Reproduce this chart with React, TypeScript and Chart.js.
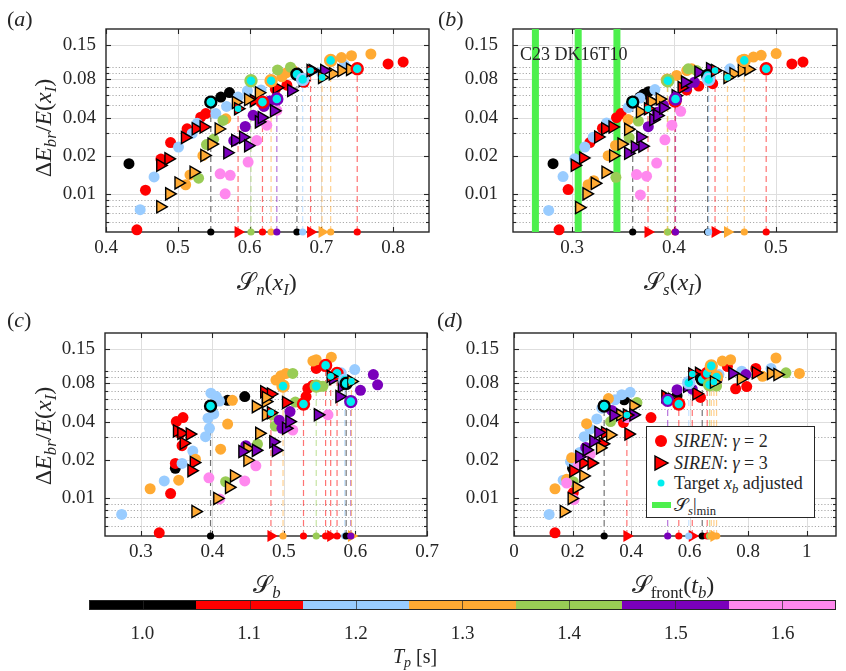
import React, { useEffect, useRef } from 'react';
import { Chart, registerables } from 'chart.js';

Chart.register(...registerables);

const FONT = "'Liberation Serif', 'Times New Roman', serif";
const INK = '#262626';

// ---------- colour classes (peak period Tp) ----------
const TP_VALUES = ['1.0', '1.1', '1.2', '1.3', '1.4', '1.5', '1.6'];
const TP_COLORS = ['#000000', '#ff0000', '#99ccff', '#ffaa33', '#99cc55', '#7a00bb', '#ff88ee'];
const CYAN = '#00eeee';
const BAND_GREEN = '#4df04d';

// ---------- axes ----------
const Y_MIN = 0.005;
const Y_MAX = 0.2;
const Y_TICKS = [0.01, 0.02, 0.04, 0.08, 0.15];
const Y_MINOR = [0.006, 0.007, 0.008, 0.009, 0.03, 0.05, 0.06, 0.07, 0.09, 0.1];

const A_X_TICKS = [0.4, 0.5, 0.6, 0.7, 0.8];
const B_X_TICKS = [0.3, 0.4, 0.5];
const C_X_TICKS = [0.3, 0.4, 0.5, 0.6, 0.7];
const D_X_TICKS = [0, 0.2, 0.4, 0.6, 0.8, 1];

// S_s|min bands of panel (b)
const B_BANDS = [0.264, 0.306, 0.344];

// ---------- data: [x, y, tpIndex] ; targets: [x, y, tpIndex, kind(0 circle,1 triangle)] ----------
const A_CIRCLES = [
  [0.432, 0.0173, 0], [0.56, 0.058, 0], [0.572, 0.063, 0],
  [0.443, 0.0052, 1], [0.455, 0.0107, 1], [0.4765, 0.0188, 1], [0.49, 0.0254, 1], [0.513, 0.0326, 1], [0.532, 0.0403, 1], [0.539, 0.043, 1], [0.652, 0.072, 1], [0.676, 0.076, 1], [0.793, 0.106, 1], [0.814, 0.11, 1], [0.636, 0.067, 1],
  [0.4476, 0.0075, 2], [0.467, 0.0136, 2], [0.501, 0.0234, 2], [0.52, 0.03, 2], [0.527, 0.036, 2], [0.553, 0.043, 2], [0.568, 0.049, 2], [0.584, 0.058, 2], [0.597, 0.065, 2], [0.616, 0.066, 2], [0.7, 0.091, 2], [0.732, 0.104, 2],
  [0.511, 0.0118, 3], [0.517, 0.0141, 3], [0.535, 0.02, 3], [0.567, 0.0391, 3], [0.645, 0.084, 3], [0.651, 0.09, 3], [0.661, 0.094, 3], [0.728, 0.119, 3], [0.742, 0.123, 3], [0.769, 0.127, 3],
  [0.529, 0.0133, 4], [0.54, 0.0245, 4], [0.55, 0.027, 4], [0.563, 0.038, 4], [0.639, 0.095, 4], [0.657, 0.1, 4],
  [0.578, 0.0263, 5], [0.594, 0.034, 5], [0.605, 0.0417, 5], [0.62, 0.049, 5], [0.628, 0.054, 5],
  [0.559, 0.0144, 6], [0.573, 0.014, 6], [0.566, 0.01, 6], [0.598, 0.0178, 6], [0.61, 0.0264, 6], [0.624, 0.0348, 6], [0.638, 0.0455, 6],
];
const A_TRIANGLES = [
  [0.4756, 0.0168, 1], [0.487, 0.0189, 1], [0.51, 0.0278, 1], [0.525, 0.0326, 1], [0.536, 0.0337, 1], [0.606, 0.0544, 1], [0.638, 0.0688, 1],
  [0.4756, 0.0079, 3], [0.488, 0.01, 3], [0.501, 0.0122, 3], [0.522, 0.0148, 3], [0.537, 0.0201, 3], [0.547, 0.0247, 3], [0.557, 0.0325, 3], [0.581, 0.0527, 3], [0.598, 0.0555, 3], [0.613, 0.0628, 3], [0.716, 0.0887, 3], [0.728, 0.094, 3], [0.74, 0.096, 3],
  [0.569, 0.0211, 5], [0.58, 0.0264, 5], [0.591, 0.028, 5], [0.598, 0.024, 5], [0.613, 0.037, 5], [0.617, 0.04, 5], [0.634, 0.0452, 5], [0.658, 0.0653, 5], [0.674, 0.0785, 5], [0.688, 0.0942, 5], [0.704, 0.094, 5],
];
const A_TARGETS = [
  [0.546, 0.053, 0, 0], [0.584, 0.047, 1, 1], [0.602, 0.078, 4, 0], [0.618, 0.053, 1, 0], [0.63, 0.078, 3, 0], [0.638, 0.056, 5, 0],
  [0.666, 0.088, 0, 0], [0.674, 0.08, 2, 0], [0.685, 0.094, 1, 1], [0.701, 0.083, 3, 1], [0.713, 0.113, 3, 0], [0.75, 0.097, 1, 0],
];

const B_CIRCLES = [
  [0.2813, 0.0173, 0], [0.3666, 0.058, 0], [0.37, 0.061, 0], [0.375, 0.064, 0],
  [0.2872, 0.0052, 1], [0.2961, 0.0108, 1], [0.3174, 0.0254, 1], [0.3298, 0.033, 1], [0.3436, 0.0399, 1], [0.348, 0.043, 1], [0.4125, 0.066, 1], [0.4243, 0.071, 1], [0.438, 0.074, 1], [0.5157, 0.106, 1], [0.5266, 0.11, 1],
  [0.277, 0.0074, 2], [0.2911, 0.0137, 2], [0.3026, 0.0189, 2], [0.3125, 0.0234, 2], [0.3207, 0.028, 2], [0.3338, 0.0362, 2], [0.355, 0.048, 2], [0.3666, 0.057, 2], [0.3813, 0.0665, 2], [0.4348, 0.083, 2], [0.455, 0.097, 2], [0.468, 0.104, 2],
  [0.3157, 0.0118, 3], [0.3213, 0.0127, 3], [0.3354, 0.02, 3], [0.3426, 0.0241, 3], [0.355, 0.0386, 3], [0.4026, 0.086, 3], [0.4125, 0.094, 3], [0.4174, 0.097, 3], [0.4666, 0.114, 3], [0.478, 0.12, 3], [0.4856, 0.124, 3], [0.5003, 0.128, 3],
  [0.343, 0.0135, 4], [0.356, 0.0278, 4], [0.365, 0.0375, 4], [0.414, 0.097, 4], [0.4223, 0.094, 4],
  [0.3748, 0.0339, 5], [0.3836, 0.044, 5], [0.3897, 0.05, 5], [0.4125, 0.07, 5], [0.42, 0.076, 5],
  [0.3633, 0.0142, 6], [0.3731, 0.0138, 6], [0.367, 0.0098, 6], [0.383, 0.0175, 6], [0.3911, 0.0267, 6], [0.398, 0.0348, 6], [0.4066, 0.0448, 6],
];
const B_TRIANGLES = [
  [0.3026, 0.0168, 1], [0.3108, 0.0192, 1], [0.3256, 0.0281, 1], [0.3325, 0.0326, 1], [0.3397, 0.0337, 1], [0.3764, 0.0545, 1], [0.4075, 0.0689, 1],
  [0.3069, 0.0078, 3], [0.3141, 0.01, 3], [0.3223, 0.0121, 3], [0.3328, 0.0148, 3], [0.3403, 0.02, 3], [0.3485, 0.0247, 3], [0.355, 0.0323, 3], [0.3666, 0.0445, 3], [0.378, 0.0534, 3], [0.386, 0.056, 3], [0.4584, 0.0887, 3], [0.4666, 0.094, 3], [0.4731, 0.096, 3],
  [0.355, 0.0209, 5], [0.3616, 0.0234, 5], [0.369, 0.0238, 5], [0.367, 0.0281, 5], [0.3797, 0.0386, 5], [0.3836, 0.0415, 5], [0.3895, 0.0476, 5], [0.4016, 0.0595, 5], [0.4108, 0.0762, 5], [0.424, 0.0913, 5], [0.4354, 0.097, 5],
];
const B_TARGETS = [
  [0.3595, 0.053, 0, 0], [0.3745, 0.047, 1, 1], [0.3935, 0.079, 3, 0], [0.394, 0.078, 4, 0], [0.401, 0.054, 1, 0], [0.4015, 0.056, 5, 0],
  [0.433, 0.086, 0, 0], [0.434, 0.08, 2, 0], [0.4403, 0.094, 1, 1], [0.4525, 0.083, 3, 1], [0.469, 0.113, 3, 0], [0.4905, 0.097, 1, 0],
];

const C_CIRCLES = [
  [0.3483, 0.0171, 0], [0.4214, 0.0588, 0], [0.4453, 0.063, 0],
  [0.3258, 0.0053, 1], [0.3417, 0.0108, 1], [0.3483, 0.0187, 1], [0.3497, 0.04, 1], [0.359, 0.043, 1], [0.355, 0.0323, 1], [0.3577, 0.0258, 1], [0.531, 0.063, 1], [0.5335, 0.0731, 1], [0.54, 0.077, 1], [0.5452, 0.105, 1],
  [0.2733, 0.0074, 2], [0.3328, 0.0136, 2], [0.3577, 0.0187, 2], [0.3727, 0.0234, 2], [0.3905, 0.0304, 2], [0.396, 0.0354, 2], [0.394, 0.0425, 2], [0.402, 0.046, 2], [0.398, 0.067, 2], [0.4055, 0.063, 2], [0.41, 0.058, 2], [0.58, 0.097, 2], [0.599, 0.103, 2],
  [0.3131, 0.0118, 3], [0.353, 0.0138, 3], [0.3764, 0.0202, 3], [0.4116, 0.0242, 3], [0.4214, 0.0382, 3], [0.428, 0.0588, 3], [0.4889, 0.085, 3], [0.4959, 0.092, 3], [0.503, 0.096, 3], [0.5405, 0.12, 3], [0.5452, 0.123, 3], [0.5663, 0.129, 3],
  [0.4186, 0.0134, 4], [0.4631, 0.0266, 4], [0.484, 0.045, 4], [0.4879, 0.0369, 4], [0.5124, 0.096, 4], [0.516, 0.057, 4], [0.55, 0.076, 4], [0.5546, 0.076, 4],
  [0.4467, 0.0258, 5], [0.4936, 0.041, 5], [0.4973, 0.0354, 5], [0.5086, 0.048, 5], [0.625, 0.094, 5], [0.631, 0.078, 5], [0.607, 0.0706, 5],
  [0.3952, 0.0144, 6], [0.4102, 0.0098, 6], [0.4453, 0.0136, 6], [0.4608, 0.0179, 6], [0.5124, 0.0343, 6], [0.5616, 0.0452, 6],
];
const C_TRIANGLES = [
  [0.3506, 0.0337, 1], [0.3567, 0.0323, 1], [0.3684, 0.0319, 1], [0.36, 0.027, 1], [0.3741, 0.019, 1], [0.3708, 0.0164, 1], [0.4725, 0.0687, 1], [0.4819, 0.066, 1], [0.503, 0.0565, 1],
  [0.3764, 0.0078, 3], [0.4069, 0.0099, 3], [0.4233, 0.0121, 3], [0.4303, 0.0149, 3], [0.449, 0.0198, 3], [0.449, 0.0245, 3], [0.4655, 0.0323, 3], [0.4608, 0.0525, 3], [0.4749, 0.0575, 3], [0.4749, 0.062, 3], [0.4749, 0.0452, 3],
  [0.442, 0.0232, 5], [0.4608, 0.0237, 5], [0.4852, 0.0277, 5], [0.4889, 0.0237, 5], [0.503, 0.0354, 5], [0.5077, 0.04, 5], [0.5475, 0.0452, 5], [0.5776, 0.063, 5], [0.581, 0.076, 5], [0.5686, 0.087, 5],
];
const C_TARGETS = [
  [0.3975, 0.053, 0, 0], [0.4819, 0.047, 1, 1], [0.4988, 0.0762, 3, 0], [0.5274, 0.0551, 1, 0], [0.5452, 0.0762, 4, 0], [0.5583, 0.111, 1, 0],
  [0.5654, 0.091, 1, 1], [0.5743, 0.096, 1, 0], [0.585, 0.085, 2, 0], [0.587, 0.08, 0, 0], [0.5944, 0.083, 3, 1], [0.5935, 0.0575, 5, 0],
];

const D_CIRCLES = [
  [0.2, 0.0171, 0], [0.3764, 0.0594, 0], [0.557, 0.064, 0],
  [0.14, 0.0053, 1], [0.2025, 0.011, 1], [0.25, 0.023, 1], [0.374, 0.0393, 1], [0.468, 0.043, 1], [0.637, 0.062, 1], [0.757, 0.0725, 1], [0.795, 0.0755, 1], [0.729, 0.109, 1], [0.826, 0.105, 1],
  [0.12, 0.0074, 2], [0.168, 0.0138, 2], [0.193, 0.0193, 2], [0.225, 0.0228, 2], [0.24, 0.0304, 2], [0.26, 0.0348, 2], [0.283, 0.042, 2], [0.3, 0.051, 2], [0.345, 0.0594, 2], [0.3684, 0.0652, 2], [0.397, 0.068, 2], [0.7, 0.094, 2], [0.778, 0.1, 2], [0.878, 0.105, 2],
  [0.14, 0.0118, 3], [0.18, 0.014, 3], [0.197, 0.0207, 3], [0.248, 0.0385, 3], [0.3226, 0.0607, 3], [0.69, 0.08, 3], [0.7117, 0.12, 3], [0.74, 0.123, 3], [0.849, 0.091, 3], [0.895, 0.127, 3], [0.975, 0.096, 3],
  [0.2025, 0.0134, 4], [0.33, 0.04, 4], [0.42, 0.0565, 4], [0.692, 0.0762, 4], [0.929, 0.097, 4],
  [0.245, 0.025, 5], [0.334, 0.049, 5], [0.557, 0.0714, 5], [0.609, 0.072, 5], [0.695, 0.087, 5], [0.792, 0.094, 5],
  [0.18, 0.0131, 6], [0.205, 0.0097, 6], [0.22, 0.018, 6], [0.26, 0.022, 6], [0.386, 0.043, 6],
];
const D_TRIANGLES = [
  [0.2025, 0.0163, 1], [0.237, 0.0188, 1], [0.265, 0.0188, 1], [0.303, 0.0267, 1], [0.311, 0.0326, 1], [0.391, 0.0319, 1], [0.517, 0.063, 1], [0.623, 0.0663, 1], [0.632, 0.096, 1], [0.826, 0.097, 1],
  [0.17, 0.0078, 3], [0.197, 0.0099, 3], [0.214, 0.0121, 3], [0.237, 0.0149, 3], [0.294, 0.0248, 3], [0.3284, 0.0314, 3], [0.363, 0.0452, 3], [0.408, 0.0532, 3], [0.54, 0.06, 3], [0.775, 0.087, 3], [0.878, 0.096, 3], [0.9, 0.094, 3],
  [0.223, 0.0211, 5], [0.248, 0.0239, 5], [0.271, 0.028, 5], [0.2883, 0.0328, 5], [0.34, 0.0447, 5], [0.408, 0.0452, 5], [0.53, 0.06, 5], [0.5915, 0.076, 5], [0.683, 0.082, 5], [0.746, 0.096, 5],
];
const D_TARGETS = [
  [0.308, 0.053, 0, 0], [0.3856, 0.045, 1, 1], [0.525, 0.0588, 5, 0], [0.563, 0.055, 1, 0], [0.597, 0.081, 2, 0], [0.609, 0.095, 1, 1],
  [0.643, 0.086, 0, 0], [0.66, 0.096, 1, 0], [0.668, 0.078, 4, 0], [0.674, 0.11, 3, 0], [0.683, 0.082, 3, 1], [0.692, 0.09, 3, 0],
];

// ---------- helpers ----------
function rgba(hex: string, a: number) {
  const n = parseInt(hex.slice(1), 16);
  return `rgba(${(n >> 16) & 255},${(n >> 8) & 255},${n & 255},${a})`;
}

function makeDatasets(circles: number[][], triangles: number[][], targets: number[][], bands: number[]) {
  const ds: any[] = [];
  bands.forEach((x) => ds.push({
    data: [{ x, y: Y_MIN }, { x, y: Y_MAX }], showLine: true, borderColor: BAND_GREEN, borderWidth: 7,
    pointRadius: 0, order: 100, clip: false,
  }));
  targets.forEach(([x, y, tp]) => ds.push({
    data: [{ x, y: Y_MIN }, { x, y }], showLine: true, borderColor: rgba(TP_COLORS[tp], 0.55), borderWidth: 1.2,
    borderDash: [6, 4], pointRadius: 0, order: 90, clip: false,
  }));
  ds.push({
    data: circles.map(([x, y]) => ({ x, y })), pointStyle: 'circle', pointRadius: 5.5, pointBorderWidth: 0,
    pointBackgroundColor: circles.map((c) => TP_COLORS[c[2]]), pointBorderColor: circles.map((c) => TP_COLORS[c[2]]),
    order: 50, clip: false,
  });
  ds.push({
    data: triangles.map(([x, y]) => ({ x, y })), pointStyle: 'triangle', pointRotation: 90, pointRadius: 7,
    pointBorderWidth: 1.4, pointBorderColor: '#000000', pointBackgroundColor: triangles.map((c) => TP_COLORS[c[2]]),
    order: 40, clip: false,
  });
  const rings = targets.filter((t) => t[3] === 0);
  const tris = targets.filter((t) => t[3] === 1);
  ds.push({
    data: rings.map(([x, y]) => ({ x, y })), pointStyle: 'circle', pointRadius: 5.5, pointBorderWidth: 2.4,
    pointBackgroundColor: CYAN, pointBorderColor: rings.map((t) => TP_COLORS[t[2]]), order: 30, clip: false,
  });
  ds.push({
    data: tris.map(([x, y]) => ({ x, y })), pointStyle: 'triangle', pointRotation: 90, pointRadius: 7,
    pointBorderWidth: 1.4, pointBorderColor: '#000000', pointBackgroundColor: tris.map((t) => TP_COLORS[t[2]]),
    order: 28, clip: false,
  });
  ds.push({
    data: tris.map(([x, y]) => ({ x, y })), pointStyle: 'circle', pointRadius: 3.3, pointBorderWidth: 0,
    pointBackgroundColor: CYAN, pointBorderColor: CYAN, order: 26, clip: false,
  });
  ds.push({
    data: rings.map(([x]) => ({ x, y: Y_MIN })), pointStyle: 'circle', pointRadius: 3.6, pointBorderWidth: 0,
    pointBackgroundColor: rings.map((t) => TP_COLORS[t[2]]), pointBorderColor: rings.map((t) => TP_COLORS[t[2]]),
    order: 10, clip: false,
  });
  ds.push({
    data: tris.map(([x]) => ({ x, y: Y_MIN })), pointStyle: 'triangle', pointRotation: 90, pointRadius: 7,
    pointBorderWidth: 0, pointBackgroundColor: tris.map((t) => TP_COLORS[t[2]]), pointBorderColor: tris.map((t) => TP_COLORS[t[2]]),
    order: 10, clip: false,
  });
  return ds;
}

function framePlugin(xTicks: number[]) {
  return {
    id: 'matlabFrame',
    beforeDatasetsDraw(chart: any) {
      const { ctx, chartArea, scales } = chart;
      const { left, right, top, bottom } = chartArea;
      const x = scales.x;
      const y = scales.y;
      const line = (x1: number, y1: number, x2: number, y2: number) => {
        ctx.beginPath(); ctx.moveTo(x1, y1); ctx.lineTo(x2, y2); ctx.stroke();
      };
      ctx.save();
      ctx.lineWidth = 1;
      ctx.strokeStyle = '#dedede';
      xTicks.forEach((v) => {
        const p = Math.round(x.getPixelForValue(v)) + 0.5;
        if (p > left + 1 && p < right - 1) line(p, top, p, bottom);
      });
      Y_TICKS.forEach((v) => {
        const p = Math.round(y.getPixelForValue(v)) + 0.5;
        line(left, p, right, p);
      });
      ctx.strokeStyle = '#aaaaaa';
      ctx.setLineDash([1.2, 2]);
      Y_MINOR.forEach((v) => {
        const p = Math.round(y.getPixelForValue(v)) + 0.5;
        line(left, p, right, p);
      });
      ctx.setLineDash([]);
      ctx.strokeStyle = INK;
      ctx.lineWidth = 1.1;
      xTicks.forEach((v) => {
        const p = Math.round(x.getPixelForValue(v)) + 0.5;
        line(p, bottom, p, bottom - 5);
        line(p, top, p, top + 5);
      });
      Y_TICKS.forEach((v) => {
        const p = Math.round(y.getPixelForValue(v)) + 0.5;
        line(left, p, left + 5, p);
        line(right, p, right - 5, p);
      });
      Y_MINOR.forEach((v) => {
        const p = Math.round(y.getPixelForValue(v)) + 0.5;
        line(left, p, left + 3, p);
        line(right, p, right - 3, p);
      });
      ctx.lineWidth = 1.4;
      ctx.strokeRect(left, top, right - left, bottom - top);
      ctx.restore();
    },
  };
}

type Geo = { left: number; top: number; width: number; height: number; l: number; r: number; t: number; b: number; yPad: number };

const X_AXIS_H = 40;

function PanelChart(props: {
  geo: Geo; xMin: number; xMax: number; xTicks: number[];
  circles: number[][]; triangles: number[][]; targets: number[][]; bands: number[];
}) {
  const ref = useRef<HTMLCanvasElement | null>(null);
  const { geo } = props;
  useEffect(() => {
    if (!ref.current) return;
    const tickFont = { family: FONT, size: 19 };
    const chart = new Chart(ref.current, {
      type: 'scatter',
      data: { datasets: makeDatasets(props.circles, props.triangles, props.targets, props.bands) },
      plugins: [framePlugin(props.xTicks)],
      options: {
        responsive: false,
        animation: false,
        devicePixelRatio: 1,
        events: [],
        layout: { padding: { left: 0, top: geo.t, right: geo.width - geo.r, bottom: geo.height - geo.b - X_AXIS_H } },
        plugins: { legend: { display: false }, tooltip: { enabled: false } },
        scales: {
          x: {
            type: 'linear', min: props.xMin, max: props.xMax,
            afterBuildTicks: (s: any) => { s.ticks = props.xTicks.map((v) => ({ value: v })); },
            afterFit: (s: any) => { s.height = X_AXIS_H; s.paddingLeft = 0; s.paddingRight = 0; },
            grid: { display: false, drawTicks: false }, border: { display: false },
            ticks: { font: tickFont, color: INK, padding: 5, maxRotation: 0, autoSkip: false, callback: (v: any) => String(v) },
          },
          y: {
            type: 'logarithmic', min: Y_MIN, max: Y_MAX,
            afterBuildTicks: (s: any) => { s.ticks = Y_TICKS.map((v) => ({ value: v })); },
            afterFit: (s: any) => { s.width = geo.l; s.paddingTop = 0; s.paddingBottom = 0; },
            grid: { display: false, drawTicks: false }, border: { display: false },
            ticks: { font: tickFont, color: INK, padding: geo.yPad, autoSkip: false, callback: (v: any) => String(v) },
          },
        },
      } as any,
    });
    return () => chart.destroy();
  }, []);
  return (
    <canvas
      ref={ref}
      width={geo.width}
      height={geo.height}
      style={{ position: 'absolute', left: geo.left, top: geo.top, width: geo.width, height: geo.height }}
    />
  );
}

const subStyle: React.CSSProperties = { fontSize: '0.7em', verticalAlign: '-0.3em', lineHeight: 0 };

function YTitle({ cx, cy }: { cx: number; cy: number }) {
  return (
    <div style={{
      position: 'absolute', left: cx, top: cy, transform: 'translate(-50%, -50%) rotate(-90deg)',
      whiteSpace: 'nowrap', fontSize: 24, lineHeight: 1, color: INK,
    }}>
      Δ<i>E</i><sub style={subStyle}><i>br</i></sub>/<i>E</i>(<i>x</i><sub style={subStyle}><i>I</i></sub>)
    </div>
  );
}

function Centered({ cx, cy, size, children }: { cx: number; cy: number; size: number; children: any }) {
  return (
    <div style={{
      position: 'absolute', left: cx, top: cy, transform: 'translate(-50%, -50%)', whiteSpace: 'nowrap',
      fontSize: size, lineHeight: 1, color: INK,
    }}>{children}</div>
  );
}

function PanelLetter({ x, y, letter }: { x: number; y: number; letter: string }) {
  return (
    <div style={{ position: 'absolute', left: x, top: y, fontSize: 22, lineHeight: 1, color: INK }}>
      (<i>{letter}</i>)
    </div>
  );
}

function Legend() {
  const row = (top: number, marker: any, text: any) => (
    <div style={{ position: 'absolute', left: 0, top, height: 20, width: '100%' }}>
      <svg width={22} height={20} style={{ position: 'absolute', left: 4, top: 0 }}>{marker}</svg>
      <div style={{ position: 'absolute', left: 27, top: 1, whiteSpace: 'nowrap', fontSize: 18, lineHeight: '18px', color: INK }}>{text}</div>
    </div>
  );
  return (
    <div style={{
      position: 'absolute', left: 646, top: 426, width: 169, height: 92, boxSizing: 'border-box',
      border: `1px solid ${INK}`, background: '#ffffff', zIndex: 2,
    }}>
      {row(4, <circle cx={10} cy={10} r={6} fill="#ff0000" />, <span><i>SIREN</i>: <i>γ</i> = 2</span>)}
      {row(26, <polygon points="4,3 17,10 4,17" fill="#ff0000" stroke="#000" strokeWidth={1.4} />, <span><i>SIREN</i>: <i>γ</i> = 3</span>)}
      {row(46, <circle cx={10} cy={10} r={3.5} fill={CYAN} />, <span>Target <i>x</i><sub style={subStyle}><i>b</i></sub> adjusted</span>)}
      {row(68, <rect x={1} y={7} width={19} height={6} fill={BAND_GREEN} />, <span>𝒮<sub style={subStyle}><i>s</i></sub>|<sub style={subStyle}>min</sub></span>)}
    </div>
  );
}

function ColorBar() {
  const left = 89;
  const width = 747;
  const seg = width / TP_COLORS.length;
  return (
    <>
      <div style={{ position: 'absolute', left, top: 600, width, height: 10, boxSizing: 'border-box', border: `1px solid ${INK}`, display: 'flex' }}>
        {TP_COLORS.map((c, i) => (
          <div key={i} style={{ flex: 1, background: c, position: 'relative' }}>
            <div style={{ position: 'absolute', left: '50%', top: 0, bottom: 0, width: 1, background: 'rgba(40,40,40,0.7)' }} />
          </div>
        ))}
      </div>
      {TP_VALUES.map((v, i) => (
        <Centered key={v} cx={left + seg * (i + 0.5)} cy={632} size={19}>{v}</Centered>
      ))}
      <Centered cx={415} cy={656} size={20}><i>T</i><sub style={subStyle}><i>p</i></sub> [s]</Centered>
    </>
  );
}

const GEO_A: Geo = { left: 0, top: 0, width: 440, height: 300, l: 106, r: 429, t: 29, b: 232, yPad: 10 };
const GEO_B: Geo = { left: 440, top: 0, width: 406, height: 300, l: 73, r: 397, t: 29, b: 232, yPad: 15 };
const GEO_C: Geo = { left: 0, top: 300, width: 440, height: 300, l: 105, r: 427, t: 33, b: 236, yPad: 10 };
const GEO_D: Geo = { left: 440, top: 300, width: 406, height: 300, l: 74, r: 396, t: 33, b: 236, yPad: 15 };

export default function App() {
  return (
    <div style={{ position: 'fixed', left: 0, top: 0, width: 846, height: 671, background: '#ffffff', fontFamily: FONT, overflow: 'hidden' }}>
      <PanelChart geo={GEO_A} xMin={0.4} xMax={0.85} xTicks={A_X_TICKS} circles={A_CIRCLES} triangles={A_TRIANGLES} targets={A_TARGETS} bands={[]} />
      <PanelChart geo={GEO_B} xMin={0.242} xMax={0.56} xTicks={B_X_TICKS} circles={B_CIRCLES} triangles={B_TRIANGLES} targets={B_TARGETS} bands={B_BANDS} />
      <PanelChart geo={GEO_C} xMin={0.25} xMax={0.7} xTicks={C_X_TICKS} circles={C_CIRCLES} triangles={C_TRIANGLES} targets={C_TARGETS} bands={[]} />
      <PanelChart geo={GEO_D} xMin={0} xMax={1.1} xTicks={D_X_TICKS} circles={D_CIRCLES} triangles={D_TRIANGLES} targets={D_TARGETS} bands={[]} />

      <PanelLetter x={7} y={8} letter="a" />
      <PanelLetter x={438} y={8} letter="b" />
      <PanelLetter x={7} y={309} letter="c" />
      <PanelLetter x={437} y={309} letter="d" />

      <YTitle cx={43} cy={128} />
      <YTitle cx={43} cy={436} />

      <Centered cx={267} cy={282} size={24}>𝒮<sub style={subStyle}><i>n</i></sub>(<i>x</i><sub style={subStyle}><i>I</i></sub>)</Centered>
      <Centered cx={673} cy={282} size={24}>𝒮<sub style={subStyle}><i>s</i></sub>(<i>x</i><sub style={subStyle}><i>I</i></sub>)</Centered>
      <Centered cx={267} cy={585} size={24}>𝒮<sub style={subStyle}><i>b</i></sub></Centered>
      <Centered cx={673} cy={585} size={24}>𝒮<sub style={subStyle}>front</sub>(<i>t</i><sub style={subStyle}><i>b</i></sub>)</Centered>

      <div style={{ position: 'absolute', left: 520, top: 45, fontSize: 18, lineHeight: 1, color: INK, whiteSpace: 'nowrap' }}>C23 DK16T10</div>

      <Legend />
      <ColorBar />
    </div>
  );
}
